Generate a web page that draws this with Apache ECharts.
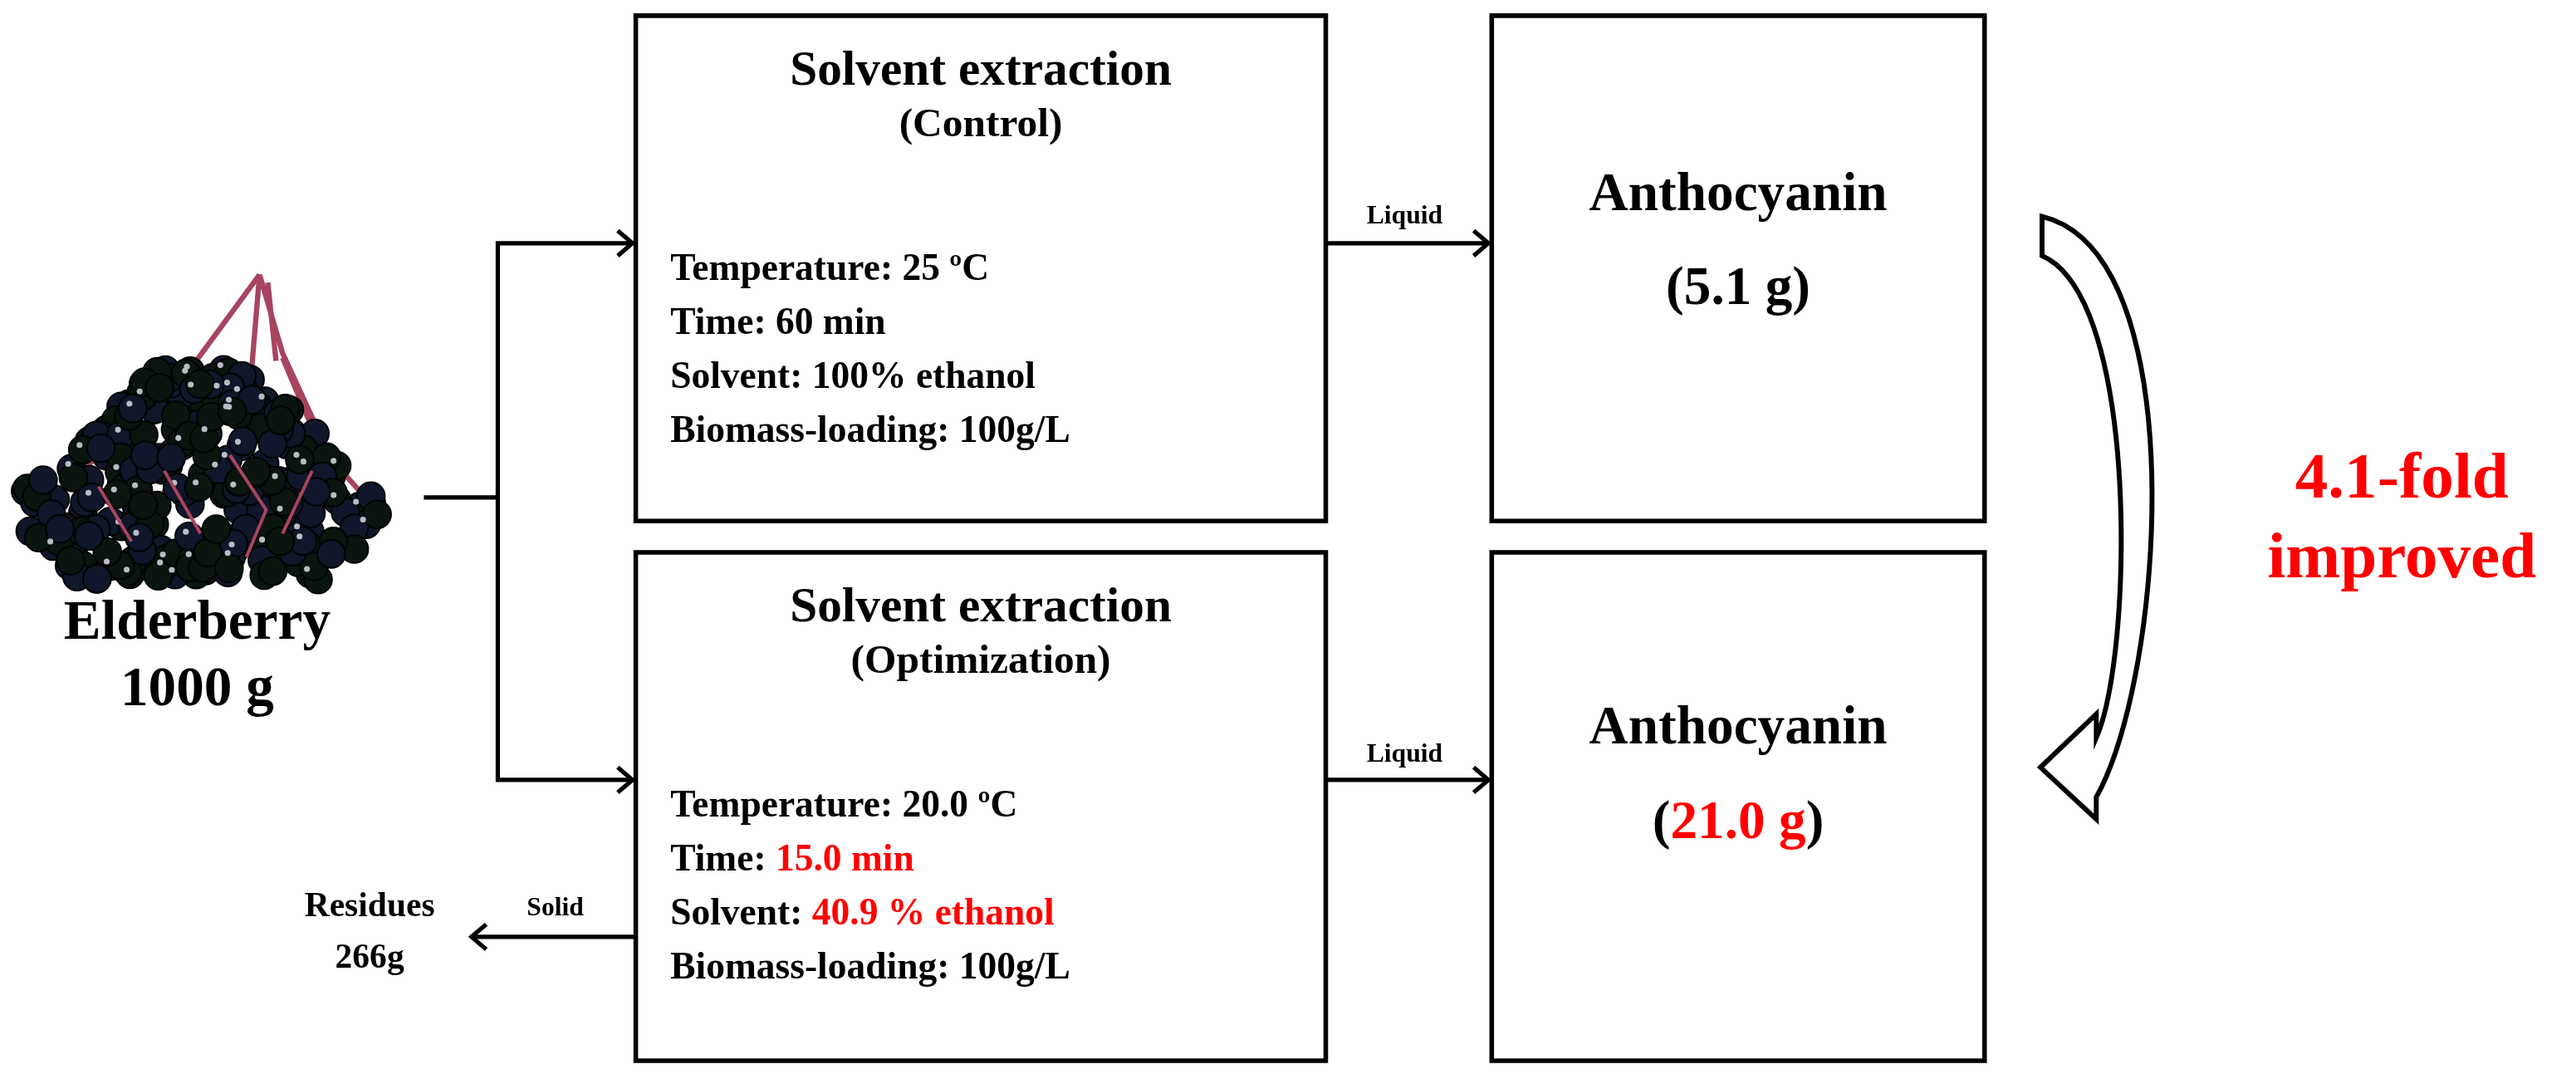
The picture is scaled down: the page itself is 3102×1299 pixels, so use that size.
<!DOCTYPE html>
<html><head><meta charset="utf-8">
<script src="https://cdn.jsdelivr.net/npm/echarts@6/dist/echarts.min.js"></script>
<style>html,body{margin:0;padding:0;background:#fff}#c{width:3102px;height:1299px}</style>
</head><body><div id="c"></div>
<script>
const feedName = 'Elderberry';
const feedMass = '1000 g';
const boxTitles = ['Solvent extraction', 'Solvent extraction'];
const boxSubtitles = ['(Control)', '(Optimization)'];
const controlParams = [['Temperature: ', '25 ºC', false], ['Time: ', '60 min', false], ['Solvent: ', '100% ethanol', false], ['Biomass-loading: ', '100g/L', false]];
const optParams = [['Temperature: ', '20.0 ºC', false], ['Time: ', '15.0 min', true], ['Solvent: ', '40.9 % ethanol', true], ['Biomass-loading: ', '100g/L', false]];
const productName = 'Anthocyanin';
const yields = ['5.1 g', '21.0 g'];
const foldText = ['4.1-fold', 'improved'];
const residue = ['Residues', '266g'];

const S = 3102 / 1568;
const KY = 657 / 688;
const X = x => x * S, Y = y => y * S * KY;
const P = p => [X(p[0]), Y(p[1])];
const F = 'Liberation Serif, Times New Roman, serif';
const els = [];
const line = (pts, w) => els.push({type: 'polyline', shape: {points: pts.map(P)}, style: {stroke: '#000', lineWidth: (w || 2.6) * S, fill: null}});
const rect = (x, y, w, h) => els.push({type: 'rect', shape: {x: X(x), y: Y(y), width: X(w), height: Y(h)}, style: {stroke: '#000', lineWidth: 2.8 * S, fill: '#fff'}});
const txt = (x, y, t, size, align, color, rich) => els.push({type: 'text', x: X(x), y: Y(y), style: {text: t, font: 'bold ' + (size * S) + 'px ' + F, fill: color || '#000', align: align || 'center', verticalAlign: 'middle', rich: rich}});
const arrowHead = (x, y, dir) => line([[x - dir * 9, y - 8], [x, y], [x - dir * 9, y + 8]], 2.6);

// elderberry illustration (decorative)
const stem = (p, w) => els.push({type: 'polyline', shape: {points: p.map(P)}, style: {stroke: '#a8445f', lineWidth: w * S, fill: null}});
[[[158, 175], [118, 232], [80, 290]], [[158, 175], [152, 250], [165, 310]], [[158, 175], [172, 225], [205, 300]], [[163, 180], [168, 230]], [[118, 232], [60, 290], [30, 320]], [[145, 245], [105, 300], [90, 340]], [[172, 228], [195, 285], [225, 320]]].forEach(p => stem(p, 3.2));
let seed = 11;
const rnd = () => { seed = (seed * 9301 + 49297) % 233280; return seed / 233280; };
const berries = [];
for (let i = 0; i < 700 && berries.length < 260; i++) {
  const y = 235 + rnd() * 135;
  const half = y < 320 ? 25 + (y - 235) * 1.15 : 122 - (y - 320) * 0.9;
  const x = 122 + (rnd() * 2 - 1) * half;
  if (x < 14 || x > 234) continue;
  berries.push([x, y]);
}
berries.forEach(([x, y]) => els.push({type: 'circle', shape: {cx: X(x), cy: Y(y), r: 8.5 * S}, style: {fill: rnd() > 0.5 ? '#0a1510' : '#10172a', stroke: '#020403', lineWidth: S}}));
berries.forEach(([x, y], i) => { if (i % 5 === 0) els.push({type: 'circle', shape: {cx: X(x - 2), cy: Y(y - 3), r: 1.8 * S}, style: {fill: '#b8bcc4'}}); });
[[[140, 290], [162, 325], [150, 355]], [[100, 300], [122, 340]], [[190, 300], [172, 340]], [[60, 310], [80, 345]]].forEach(p => stem(p, 2));

txt(120, 398, feedName, 34);
txt(120, 440, feedMass, 34);

// splitter
line([[258, 317], [303, 317]]);
line([[385, 155], [303, 155], [303, 497], [385, 497]]);
arrowHead(385, 155, 1); arrowHead(385, 497, 1);

// boxes
rect(387, 10, 420, 322); rect(387, 352, 420, 324);
rect(908, 10, 300, 322); rect(908, 352, 300, 324);

txt(597, 46, boxTitles[0], 30); txt(597, 80, boxSubtitles[0], 25);
txt(597, 388, boxTitles[1], 30); txt(597, 422, boxSubtitles[1], 25);
const rich = {r: {fill: '#ff0000', font: 'bold ' + 23 * S + 'px ' + F}, k: {fill: '#000', font: 'bold ' + 23 * S + 'px ' + F}};
controlParams.forEach((p, i) => txt(408, 172 + i * 34.5, '{k|' + p[0] + p[1] + '}', 23, 'left', '#000', rich));
optParams.forEach((p, i) => txt(408, 514 + i * 34.5, '{k|' + p[0] + '}{' + (p[2] ? 'r' : 'k') + '|' + p[1] + '}', 23, 'left', '#000', rich));

// liquid arrows
line([[807, 155], [906, 155]]); arrowHead(906, 155, 1); txt(855, 138, 'Liquid', 16);
line([[807, 497], [906, 497]]); arrowHead(906, 497, 1); txt(855, 481, 'Liquid', 16);

// products
const rich2 = {r: {fill: '#ff0000', font: 'bold ' + 33 * S + 'px ' + F}, k: {fill: '#000', font: 'bold ' + 33 * S + 'px ' + F}};
txt(1058, 125, productName, 33); txt(1058, 185, '{k|(' + yields[0] + ')}', 33, 'center', '#000', rich2);
txt(1058, 465, productName, 33); txt(1058, 525, '{k|(}{r|' + yields[1] + '}{k|)}', 33, 'center', '#000', rich2);

// solid
line([[387, 597], [287, 597]]); arrowHead(287, 597, -1);
txt(338, 579, 'Solid', 16);
txt(225, 578, residue[0], 21); txt(225, 611, residue[1], 21);

// curved improvement arrow (sampled cubic beziers -> polygon)
const bez = (a, b, c, d, n) => { const o = []; for (let i = 0; i <= n; i++) { const t = i / n, m = 1 - t; o.push([m*m*m*a[0] + 3*m*m*t*b[0] + 3*m*t*t*c[0] + t*t*t*d[0], m*m*m*a[1] + 3*m*m*t*b[1] + 3*m*t*t*c[1] + t*t*t*d[1]]); } return o; };
const outer = bez([1243, 138], [1335, 160], [1318, 430], [1276, 508], 40);
const inner = bez([1276, 470], [1298, 420], [1303, 190], [1243, 163], 40);
const arrowPts = outer.concat([[1276, 522], [1242, 489], [1276, 455]], inner);
els.push({type: 'polygon', shape: {points: arrowPts.map(P)}, style: {fill: '#fff', stroke: '#000', lineWidth: 3 * S, lineJoin: 'miter'}});
txt(1462, 306, foldText[0], 40, 'center', '#ff0000');
txt(1462, 357, foldText[1], 40, 'center', '#ff0000');

const chart = echarts.init(document.getElementById('c'));
chart.setOption({backgroundColor: '#fff', graphic: els});
</script></body></html>
